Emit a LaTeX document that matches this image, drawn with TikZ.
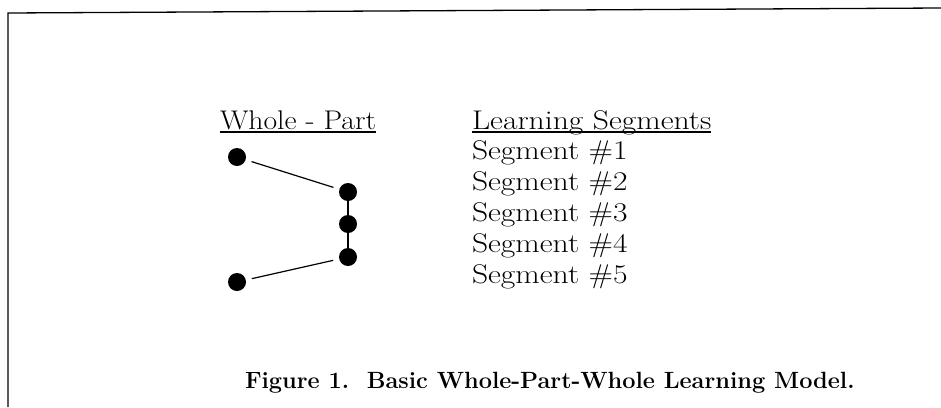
\documentclass[tikz,border=0pt]{standalone}
\usepackage{fontspec}
\setmainfont{Latin Modern Roman}
\begin{document}
\begin{tikzpicture}[x=1pt,y=-1pt,
  txt/.style={anchor=base west,inner sep=0pt,outer sep=0pt,font=\fontsize{27}{30}\selectfont},
  ttl/.style={anchor=base west,inner sep=0pt,outer sep=0pt,font=\fontsize{23.5}{26}\selectfont\bfseries},
  dot/.style={circle,fill=black,minimum size=18pt,inner sep=0pt},
  link/.style={line width=1.2pt},
  gaplink/.style={line width=1.2pt,shorten <=6pt,shorten >=6pt},
  uline/.style={line width=1.2pt},
  frame/.style={line width=1.3pt}]
\useasboundingbox (0,0) rectangle (941,407);
% frame
\coordinate (fb) at (8,407);
\coordinate (ftl) at (8,13);
\coordinate (ftr) at (941,8);
\draw[frame] (fb) -- (ftl) -- (ftr);
% headings
\node[txt] (h1) at (220,129) {\scalebox{1.10}[1]{Whole - Part}};
\node[txt] (h2) at (472,129) {\scalebox{1.17}[1]{Learning Segments}};
\draw[uline] ([yshift=-3pt]h1.base west) -- ([yshift=-3pt]h1.base east);
\draw[uline] ([yshift=-3pt]h2.base west) -- ([yshift=-3pt]h2.base east);
\node[txt] (s1) at (472,159) {\scalebox{1.17}[1]{Segment \#1}};
\node[txt] (s2) at (472,190) {\scalebox{1.17}[1]{Segment \#2}};
\node[txt] (s3) at (472,221) {\scalebox{1.17}[1]{Segment \#3}};
\node[txt] (s4) at (472,252) {\scalebox{1.17}[1]{Segment \#4}};
\node[txt] (s5) at (472,283) {\scalebox{1.17}[1]{Segment \#5}};
% dots
\node[dot] (d1) at (237,157) {};
\node[dot] (d2) at (348,192) {};
\node[dot] (d3) at (348,224) {};
\node[dot] (d4) at (348,257) {};
\node[dot] (d5) at (237,282) {};
\draw[gaplink] (d1) -- (d2);
\draw[link] (d2) -- (d3);
\draw[link] (d3) -- (d4);
\draw[gaplink] (d4) -- (d5);
% title
\node[ttl] (t) at (245,388) {Figure 1.\ \ Basic Whole-Part-Whole Learning Model.};
\end{tikzpicture}
\end{document}
